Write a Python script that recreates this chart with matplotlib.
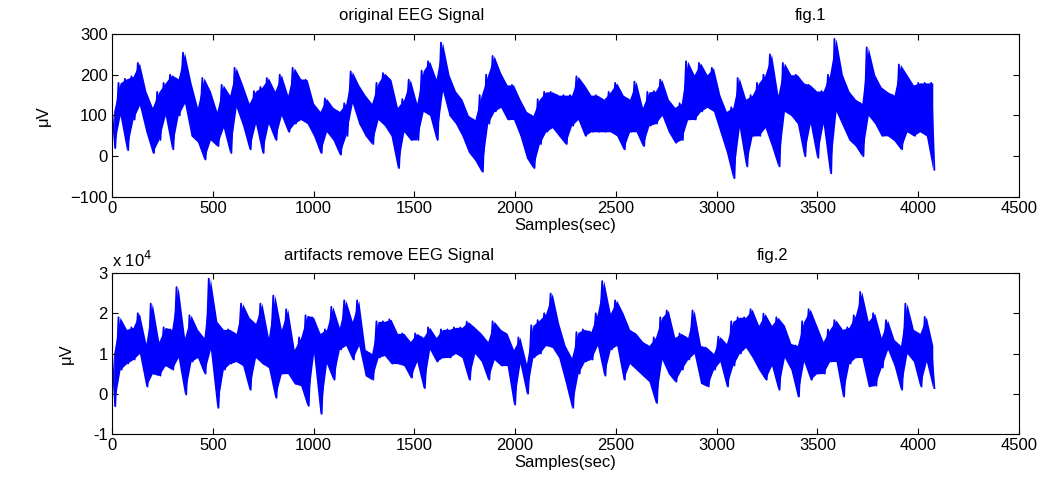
import numpy as np
import matplotlib
matplotlib.use('Agg')
from matplotlib import pyplot as plt
from matplotlib.ticker import FuncFormatter

plt.rcParams['font.family'] = ['Liberation Sans', 'DejaVu Sans']

# signal envelope: one (high, low) pair per 32 samples
step = 32

orig_hi = [110, 180, 190, 196, 229, 160, 120, 158, 180, 200,
           190, 254, 180, 120, 192, 160, 110, 175, 150, 217,
           175, 130, 160, 170, 192, 160, 200, 150, 217, 190,
           188, 130, 110, 142, 120, 110, 130, 208, 175, 150,
           130, 180, 204, 188, 120, 140, 188, 130, 210, 233,
           190, 279, 200, 160, 140, 100, 90, 150, 200, 246,
           205, 175, 175, 140, 110, 100, 140, 158, 158, 150,
           150, 150, 196, 175, 150, 150, 140, 158, 180, 150,
           140, 183, 120, 158, 160, 188, 140, 120, 130, 233,
           200, 229, 200, 217, 150, 110, 120, 192, 140, 150,
           180, 200, 250, 150, 229, 200, 200, 180, 175, 160,
           160, 200, 288, 200, 160, 140, 130, 267, 200, 170,
           158, 150, 225, 200, 175, 180, 180, 180]
orig_lo = [20, 100, 15, 90, 125, 60, 8, 40, 100, 17,
           100, 130, 50, 35, -8, 40, 25, 70, 8, 120,
           75, 17, 80, 8, 80, 40, 100, 60, 80, 90,
           80, 50, 8, 60, 40, 4, 50, 130, 80, 50,
           30, 90, 75, 50, -29, 60, 40, 40, 110, 100,
           40, 160, 100, 80, 50, 10, -10, -38, 80, 110,
           120, 90, 90, 50, -4, -29, 30, 60, 70, 50,
           30, 75, 90, 50, 60, 60, 60, 60, 50, 17,
           60, 60, 25, 75, 80, 100, 60, 33, 40, 90,
           90, 110, 120, 110, 60, 10, -54, 70, -25, 50,
           50, 70, 25, -25, 110, 100, 80, 0, 80, -4,
           80, -42, 110, 75, 40, 25, 0, 100, 80, 50,
           50, 38, 17, 60, 50, 60, 50, -33]

# artifacts removed signal, in units of 10^4 uV
clean_hi_1e4 = [1.0, 1.9, 1.6, 1.65, 2.0, 1.25, 2.24, 1.3, 1.65, 1.6,
                2.65, 1.4, 1.95, 1.6, 1.4, 2.86, 1.8, 1.6, 1.6, 1.5,
                2.24, 1.9, 1.75, 2.24, 1.4, 2.44, 1.6, 2.1, 1.1, 1.4,
                1.95, 1.9, 1.5, 1.6, 2.16, 1.65, 2.32, 1.8, 2.32, 1.1,
                1.0, 1.8, 1.8, 1.85, 1.5, 1.5, 1.3, 1.5, 1.4, 1.65,
                1.4, 1.6, 1.6, 1.65, 1.65, 1.79, 1.65, 1.5, 1.3, 1.8,
                1.6, 1.5, 1.1, 1.4, 0.75, 1.7, 1.83, 2.0, 2.49, 1.75,
                1.2, 0.9, 1.53, 1.6, 1.55, 2.0, 2.8, 2.0, 2.32, 2.0,
                1.6, 1.5, 1.3, 1.2, 1.4, 1.9, 2.07, 1.4, 1.5, 1.4,
                2.07, 1.2, 1.15, 1.0, 1.42, 1.25, 1.8, 1.9, 1.9, 2.1,
                1.7, 1.99, 1.7, 1.9, 1.7, 1.25, 1.2, 1.8, 2.1, 1.7,
                1.3, 1.6, 1.83, 1.6, 1.65, 1.95, 2.53, 1.8, 2.0, 1.4,
                1.83, 1.35, 1.2, 2.24, 1.6, 1.5, 1.91, 1.2]
clean_lo_1e4 = [-0.31, 0.6, 0.75, 0.85, 1.0, 0.18, 0.5, 0.45, 0.7, 0.6,
                0.9, -0.02, 0.8, 0.9, 0.5, 1.1, -0.35, 0.6, 0.75, 0.8,
                0.7, 0.1, 0.9, 0.75, 0.65, -0.1, 0.5, 0.5, 0.25, 0.2,
                -0.3, 1.0, -0.5, 0.75, 0.35, 1.1, 1.2, 0.85, 1.2, 0.45,
                0.35, 0.9, 0.95, 0.75, 0.75, 0.7, 0.4, 0.8, 0.14, 1.1,
                0.8, 0.9, 0.9, 1.0, 0.9, 0.35, 1.0, 0.8, 0.35, 0.85,
                0.7, 0.7, -0.27, 0.75, 0.0, 0.9, 1.0, 1.2, 1.15, 0.9,
                0.3, -0.35, 0.5, 0.8, 0.85, 1.2, 0.45, 1.1, 1.2, 0.35,
                0.75, 0.6, 0.45, 0.3, -0.23, 0.85, 0.5, 0.3, 0.6, 0.85,
                1.0, 0.26, 0.18, 0.6, 0.8, 0.18, 0.7, 1.0, 1.15, 0.9,
                0.6, 0.35, 0.7, 0.1, 0.9, 0.6, -0.07, 0.8, 0.35, 0.5,
                0.5, 0.8, 0.8, -0.07, 0.75, 0.9, 0.9, 0.18, 0.2, 0.65,
                1.1, 0.7, 0.1, 1.0, 0.8, 0.18, 0.8, 0.14]

x_ticks = [0, 500, 1000, 1500, 2000, 2500, 3000, 3500, 4000, 4500]
top_yticks = [-100, 0, 100, 200, 300]
bot_yticks = [-1e4, 0, 1e4, 2e4, 3e4]


def draw_trace(ax, hi, lo):
    hi = np.asarray(hi, dtype=float)
    lo = np.asarray(lo, dtype=float)
    xk = np.arange(len(hi)) * step
    # dense part of the trace, then the oscillation on top of it
    ax.fill_between(xk + step / 4, lo, hi, color='b', lw=0)
    y = np.column_stack([hi, lo]).ravel()
    x = np.arange(len(y)) * (step // 2)
    ax.plot(x, y, color='b', lw=1.3)


def style_axes(ax):
    ax.set_xlim(0, 4500)
    ax.set_xticks(x_ticks)
    ax.tick_params(direction='in', top=True, right=True, length=4,
                   width=0.8, labelsize=12, pad=3)
    for sp in ax.spines.values():
        sp.set_linewidth(0.8)
    ax.set_xlabel('Samples(sec)', fontsize=12, labelpad=1)
    ax.set_ylabel('\u03bcV', fontsize=12, labelpad=14)


fig = plt.figure(figsize=(10.51, 4.84), dpi=100)
ax1 = fig.add_axes([0.1066, 0.593, 0.863, 0.3368])
ax2 = fig.add_axes([0.1066, 0.1033, 0.863, 0.3326])

draw_trace(ax1, orig_hi, orig_lo)
ax1.set_ylim(-100, 300)
ax1.set_yticks(top_yticks)
style_axes(ax1)
ax1.text(0.33, 1.07, 'original EEG Signal', transform=ax1.transAxes,
         ha='center', va='bottom', fontsize=12)
ax1.text(0.77, 1.07, 'fig.1', transform=ax1.transAxes,
         ha='center', va='bottom', fontsize=12)

draw_trace(ax2, np.array(clean_hi_1e4) * 1e4, np.array(clean_lo_1e4) * 1e4)
ax2.set_ylim(-1e4, 3e4)
ax2.set_yticks(bot_yticks)
ax2.yaxis.set_major_formatter(FuncFormatter(lambda v, p: f'{v / 1e4:g}'))
style_axes(ax2)
ax2.text(0.0, 1.02, 'x 10$^4$', transform=ax2.transAxes,
         ha='left', va='bottom', fontsize=12)
ax2.text(0.305, 1.06, 'artifacts remove EEG Signal', transform=ax2.transAxes,
         ha='center', va='bottom', fontsize=12)
ax2.text(0.728, 1.06, 'fig.2', transform=ax2.transAxes,
         ha='center', va='bottom', fontsize=12)

fig.savefig('out.png', dpi=100)
